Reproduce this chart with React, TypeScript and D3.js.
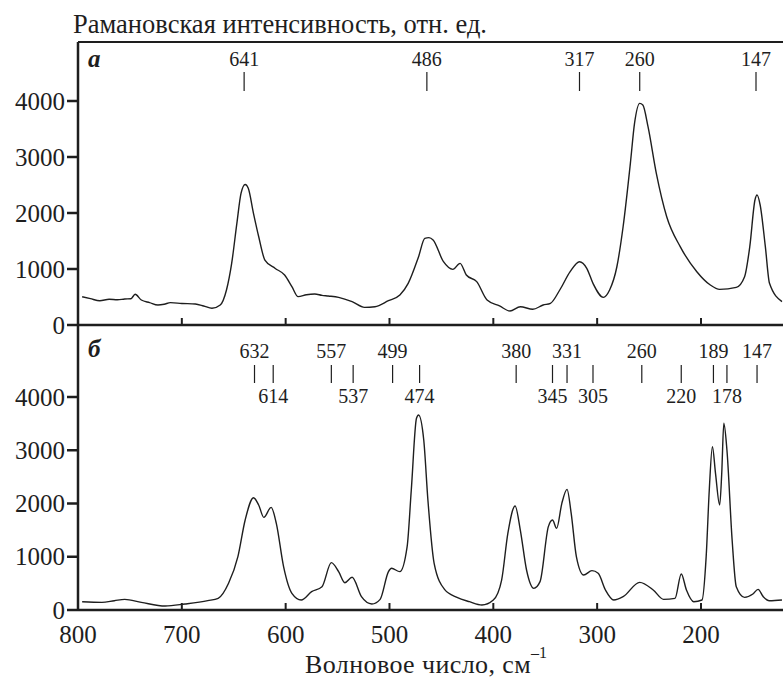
import React, { useEffect, useRef } from 'react';
import * as d3 from 'd3';

const spectrumA: [number, number][] = [
  [796, 505], [788, 470], [779, 434], [770, 460], [762, 450], [755, 464], [749, 470], [745, 548], [739, 446],
  [731, 400], [723, 357], [717, 370], [711, 399], [700, 385], [687, 375], [679, 340], [671, 298], [663, 357],
  [657, 625], [652, 1100], [647, 1815], [643, 2350], [639, 2510], [636, 2440], [631, 1995], [626, 1580],
  [620, 1160], [610, 1010], [601, 893], [594, 685], [588, 506], [580, 540], [572, 553], [565, 530], [559, 518],
  [549, 494], [536, 417], [524, 315], [514, 327], [501, 434], [490, 536], [482, 744], [472, 1220], [466, 1548],
  [462, 1560], [458, 1518], [448, 1130], [439, 994], [432, 1100], [426, 893], [416, 774], [406, 446], [394, 340],
  [384, 250], [374, 327], [362, 280], [352, 357], [345, 387], [336, 625], [326, 952], [317, 1130], [310, 1012],
  [304, 744], [294, 494], [288, 625], [281, 1040], [275, 1755], [268, 2887], [264, 3600], [259, 3958], [256, 3928],
  [251, 3541], [243, 2708], [233, 1934], [220, 1399], [204, 952], [191, 714], [182, 637], [166, 673], [158, 863],
  [153, 1399], [148, 2232], [146, 2321], [143, 2143], [138, 1399], [134, 744], [122, 417]
];

const spectrumB: [number, number][] = [
  [796, 156], [777, 144], [765, 175], [755, 200], [739, 144], [716, 75], [697, 113], [675, 175], [665, 219],
  [655, 501], [646, 1002], [639, 1690], [631, 2109], [626, 1972], [621, 1740], [614, 1928], [609, 1627],
  [602, 814], [594, 313], [585, 188], [575, 344], [565, 438], [556, 889], [549, 720], [543, 513], [536, 614],
  [527, 250], [517, 113], [509, 200], [501, 720], [498, 783], [490, 720], [483, 1189], [479, 2254], [474, 3600],
  [472, 3662], [467, 3192], [463, 2066], [457, 877], [447, 388], [435, 238], [423, 156], [411, 94], [400, 188],
  [392, 563], [386, 1440], [379, 1953], [374, 1502], [368, 751], [361, 407], [355, 532], [347, 1565], [343, 1690],
  [339, 1534], [334, 2003], [329, 2266], [325, 1815], [320, 1002], [313, 657], [305, 739], [299, 689], [292, 376],
  [284, 188], [275, 250], [259, 519], [246, 376], [236, 200], [225, 219], [219, 676], [214, 376], [207, 156],
  [199, 188], [195, 1002], [192, 2254], [189, 3067], [186, 2567], [182, 1972], [180, 2567], [178, 3506],
  [175, 3005], [170, 1315], [166, 438], [158, 238], [150, 300], [145, 388], [140, 250], [134, 175], [122, 188]
];

// peak markers: label, marker position (cm-1)
const peaksA: [string, number][] = [["641", 640], ["486", 464], ["317", 317], ["260", 259], ["147", 147]];
const peaksBTop: [string, number][] = [["632", 630], ["557", 556], ["499", 497], ["380", 378], ["331", 329], ["260", 257], ["189", 188], ["147", 146]];
const peaksBBottom: [string, number][] = [["614", 612], ["537", 535], ["474", 471], ["345", 343], ["305", 304], ["220", 219], ["178", 175]];

const xTicks = [800, 700, 600, 500, 400, 300, 200];
const yTicks = [0, 1000, 2000, 3000, 4000];

const App = () => {
  const ref = useRef<SVGSVGElement>(null);

  useEffect(() => {
    const width = 783;
    const height = 678;
    const left = 78;
    const top = 42;
    const ink = "#1e1e1e";
    const font = "'Liberation Serif', 'DejaVu Serif', serif";

    const svg = d3.select(ref.current);
    svg.selectAll("*").remove();
    svg.attr("width", width).attr("height", height);

    const x = d3.scaleLinear().domain([800, 121]).range([left, width]);

    const panels = [
      { data: spectrumA, y: d3.scaleLinear().domain([0, 4000]).range([325, 101]), letter: "a", letterY: 67 },
      { data: spectrumB, y: d3.scaleLinear().domain([0, 4000]).range([610, 397]), letter: "б", letterY: 357 }
    ];

    panels.forEach(p => {
      const line = d3.line<[number, number]>()
        .x(d => x(d[0]))
        .y(d => p.y(d[1]))
        .curve(d3.curveMonotoneX);

      svg.append("path")
        .datum(p.data)
        .attr("fill", "none")
        .attr("stroke", ink)
        .attr("stroke-width", 1.4)
        .attr("d", line);

      const base = p.y(0);

      // horizontal axis line with inward ticks
      svg.append("line")
        .attr("x1", left).attr("x2", width)
        .attr("y1", base).attr("y2", base)
        .attr("stroke", ink).attr("stroke-width", 2.5);

      svg.append("g").selectAll("line")
        .data(xTicks.slice(1))
        .join("line")
        .attr("x1", d => x(d)).attr("x2", d => x(d))
        .attr("y1", base).attr("y2", base - 7)
        .attr("stroke", ink).attr("stroke-width", 2);

      // y ticks
      const yg = svg.append("g").selectAll("g").data(yTicks).join("g")
        .attr("transform", d => `translate(0,${p.y(d)})`);
      yg.append("line")
        .attr("x1", left - 11).attr("x2", left)
        .attr("stroke", ink).attr("stroke-width", 2.5);
      yg.append("text")
        .attr("x", left - 13)
        .attr("dy", "0.34em")
        .attr("text-anchor", "end")
        .attr("font-size", 25)
        .attr("fill", ink)
        .text(d => d);

      svg.append("text")
        .attr("x", 88)
        .attr("y", p.letterY)
        .attr("font-size", 25)
        .attr("font-weight", "bold")
        .attr("font-style", "italic")
        .attr("fill", ink)
        .text(p.letter);
    });

    // frame: top border and left axis
    svg.append("line")
      .attr("x1", left).attr("x2", width).attr("y1", top).attr("y2", top)
      .attr("stroke", ink).attr("stroke-width", 2);
    svg.append("line")
      .attr("x1", left).attr("x2", left).attr("y1", top).attr("y2", 611)
      .attr("stroke", ink).attr("stroke-width", 2.5);

    // peak markers
    const markers = (peaks: [string, number][], labelY: number, t0: number, t1: number) => {
      const g = svg.append("g").selectAll("g").data(peaks).join("g")
        .attr("transform", d => `translate(${x(d[1])},0)`);
      g.append("line")
        .attr("y1", t0).attr("y2", t1)
        .attr("stroke", ink).attr("stroke-width", 1.2);
      g.append("text")
        .attr("y", labelY)
        .attr("text-anchor", "middle")
        .attr("font-size", 20)
        .attr("fill", ink)
        .text(d => d[0]);
    };
    markers(peaksA, 66, 72, 91);
    markers(peaksBTop, 358, 365, 383);
    markers(peaksBBottom, 403, 365, 383);

    // bottom tick labels
    svg.append("g").selectAll("text").data(xTicks).join("text")
      .attr("x", d => x(d))
      .attr("y", 643)
      .attr("text-anchor", "middle")
      .attr("font-size", 25)
      .attr("fill", ink)
      .text(d => d);

    // titles
    svg.append("text")
      .attr("x", 73).attr("y", 33)
      .attr("font-size", 26.5)
      .attr("fill", ink)
      .text("Рамановская интенсивность, отн. ед.");

    const xt = svg.append("text")
      .attr("x", 305).attr("y", 673)
      .attr("font-size", 26)
      .attr("letter-spacing", 0.4)
      .attr("fill", ink);
    xt.append("tspan").text("Волновое число, см");
    xt.append("tspan").attr("dy", -15).attr("font-size", 16).attr("letter-spacing", 0).text("–1");

    svg.selectAll("text, tspan").style("font-family", font);
  }, []);

  return (
    <svg ref={ref} style={{ position: "absolute", left: 0, top: 0, background: "#fff" }}></svg>
  );
};

export default App;
